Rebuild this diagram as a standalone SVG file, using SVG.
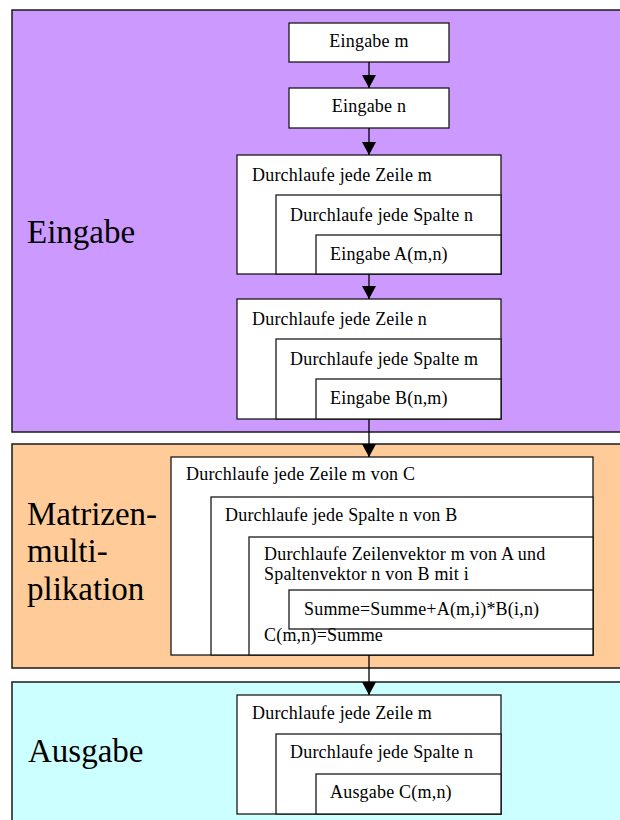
<svg xmlns="http://www.w3.org/2000/svg" width="620" height="820" viewBox="0 0 620 820">
<style>
.panel{stroke:#1a1a1a;stroke-width:1.5}
.box{fill:#ffffff;stroke:#1a1a1a;stroke-width:1.3}
.t{font-family:'Liberation Serif','DejaVu Serif',serif;font-size:18px;letter-spacing:0.2px;fill:#000}
.big{font-family:'Liberation Serif','DejaVu Serif',serif;font-size:33px;fill:#000}
.conn{stroke:#000;stroke-width:1.3;fill:none;marker-end:url(#ah)}
</style>
<defs>
<marker id="ah" markerUnits="userSpaceOnUse" markerWidth="14" markerHeight="14" refX="13" refY="7" orient="auto">
<path d="M0,0 L13,7 L0,14 Z" fill="#000"/>
</marker>
</defs>
<rect width="620" height="820" fill="#ffffff"/>
<g id="panel-eingabe">
<rect class="panel" x="12" y="10" width="620" height="422" fill="#CC99FF"/>
<text class="big" x="27" y="243">Eingabe</text>
</g>
<g id="panel-matrix">
<rect class="panel" x="12" y="444" width="620" height="224" fill="#FFCC99"/>
<text class="big" x="27" y="525">Matrizen-</text>
<text class="big" x="27" y="562">multi-</text>
<text class="big" x="27" y="600">plikation</text>
</g>
<g id="panel-ausgabe">
<rect class="panel" x="12" y="682" width="620" height="150" fill="#CCFFFF"/>
<text class="big" x="28" y="762">Ausgabe</text>
</g>
<g id="eingabe-m">
<rect class="box" x="289" y="23" width="160" height="39"/>
<text class="t" x="369" y="47" text-anchor="middle">Eingabe m</text>
</g>
<g id="eingabe-n">
<rect class="box" x="289" y="88" width="160" height="40"/>
<text class="t" x="369" y="112" text-anchor="middle">Eingabe n</text>
</g>
<g id="loop-a">
<rect class="box" x="237" y="155" width="264" height="119"/>
<rect class="box" x="276" y="195" width="225" height="79"/>
<rect class="box" x="316" y="235" width="185" height="39"/>
<text class="t" x="252" y="181">Durchlaufe jede Zeile m</text>
<text class="t" x="290" y="221">Durchlaufe jede Spalte n</text>
<text class="t" x="330" y="260">Eingabe A(m,n)</text>
</g>
<g id="loop-b">
<rect class="box" x="237" y="299" width="264" height="120"/>
<rect class="box" x="276" y="339" width="225" height="80"/>
<rect class="box" x="316" y="379" width="185" height="40"/>
<text class="t" x="252" y="325">Durchlaufe jede Zeile n</text>
<text class="t" x="290" y="365">Durchlaufe jede Spalte m</text>
<text class="t" x="330" y="404">Eingabe B(n,m)</text>
</g>
<g id="loop-mult">
<rect class="box" x="171" y="457" width="422" height="198"/>
<rect class="box" x="211" y="497" width="382" height="158"/>
<rect class="box" x="249" y="537" width="344" height="118"/>
<rect class="box" x="289" y="590" width="304" height="39"/>
<text class="t" x="186" y="480">Durchlaufe jede Zeile m von C</text>
<text class="t" x="225" y="521">Durchlaufe jede Spalte n von B</text>
<text class="t" x="264" y="560">Durchlaufe Zeilenvektor m von A und</text>
<text class="t" x="264" y="580">Spaltenvektor n von B mit i</text>
<text class="t" x="304" y="615">Summe=Summe+A(m,i)*B(i,n)</text>
<text class="t" x="264" y="641">C(m,n)=Summe</text>
</g>
<g id="loop-c">
<rect class="box" x="237" y="695" width="264" height="119"/>
<rect class="box" x="276" y="734" width="225" height="80"/>
<rect class="box" x="316" y="774" width="185" height="40"/>
<text class="t" x="252" y="719">Durchlaufe jede Zeile m</text>
<text class="t" x="290" y="758">Durchlaufe jede Spalte n</text>
<text class="t" x="330" y="798">Ausgabe C(m,n)</text>
</g>
<g id="connectors">
<line class="conn" x1="369" y1="62" x2="369" y2="88"/>
<line class="conn" x1="369" y1="128" x2="369" y2="155"/>
<line class="conn" x1="369" y1="274" x2="369" y2="299"/>
<line class="conn" x1="369" y1="419" x2="369" y2="457"/>
<line class="conn" x1="369" y1="655" x2="369" y2="695"/>
</g>
</svg>
